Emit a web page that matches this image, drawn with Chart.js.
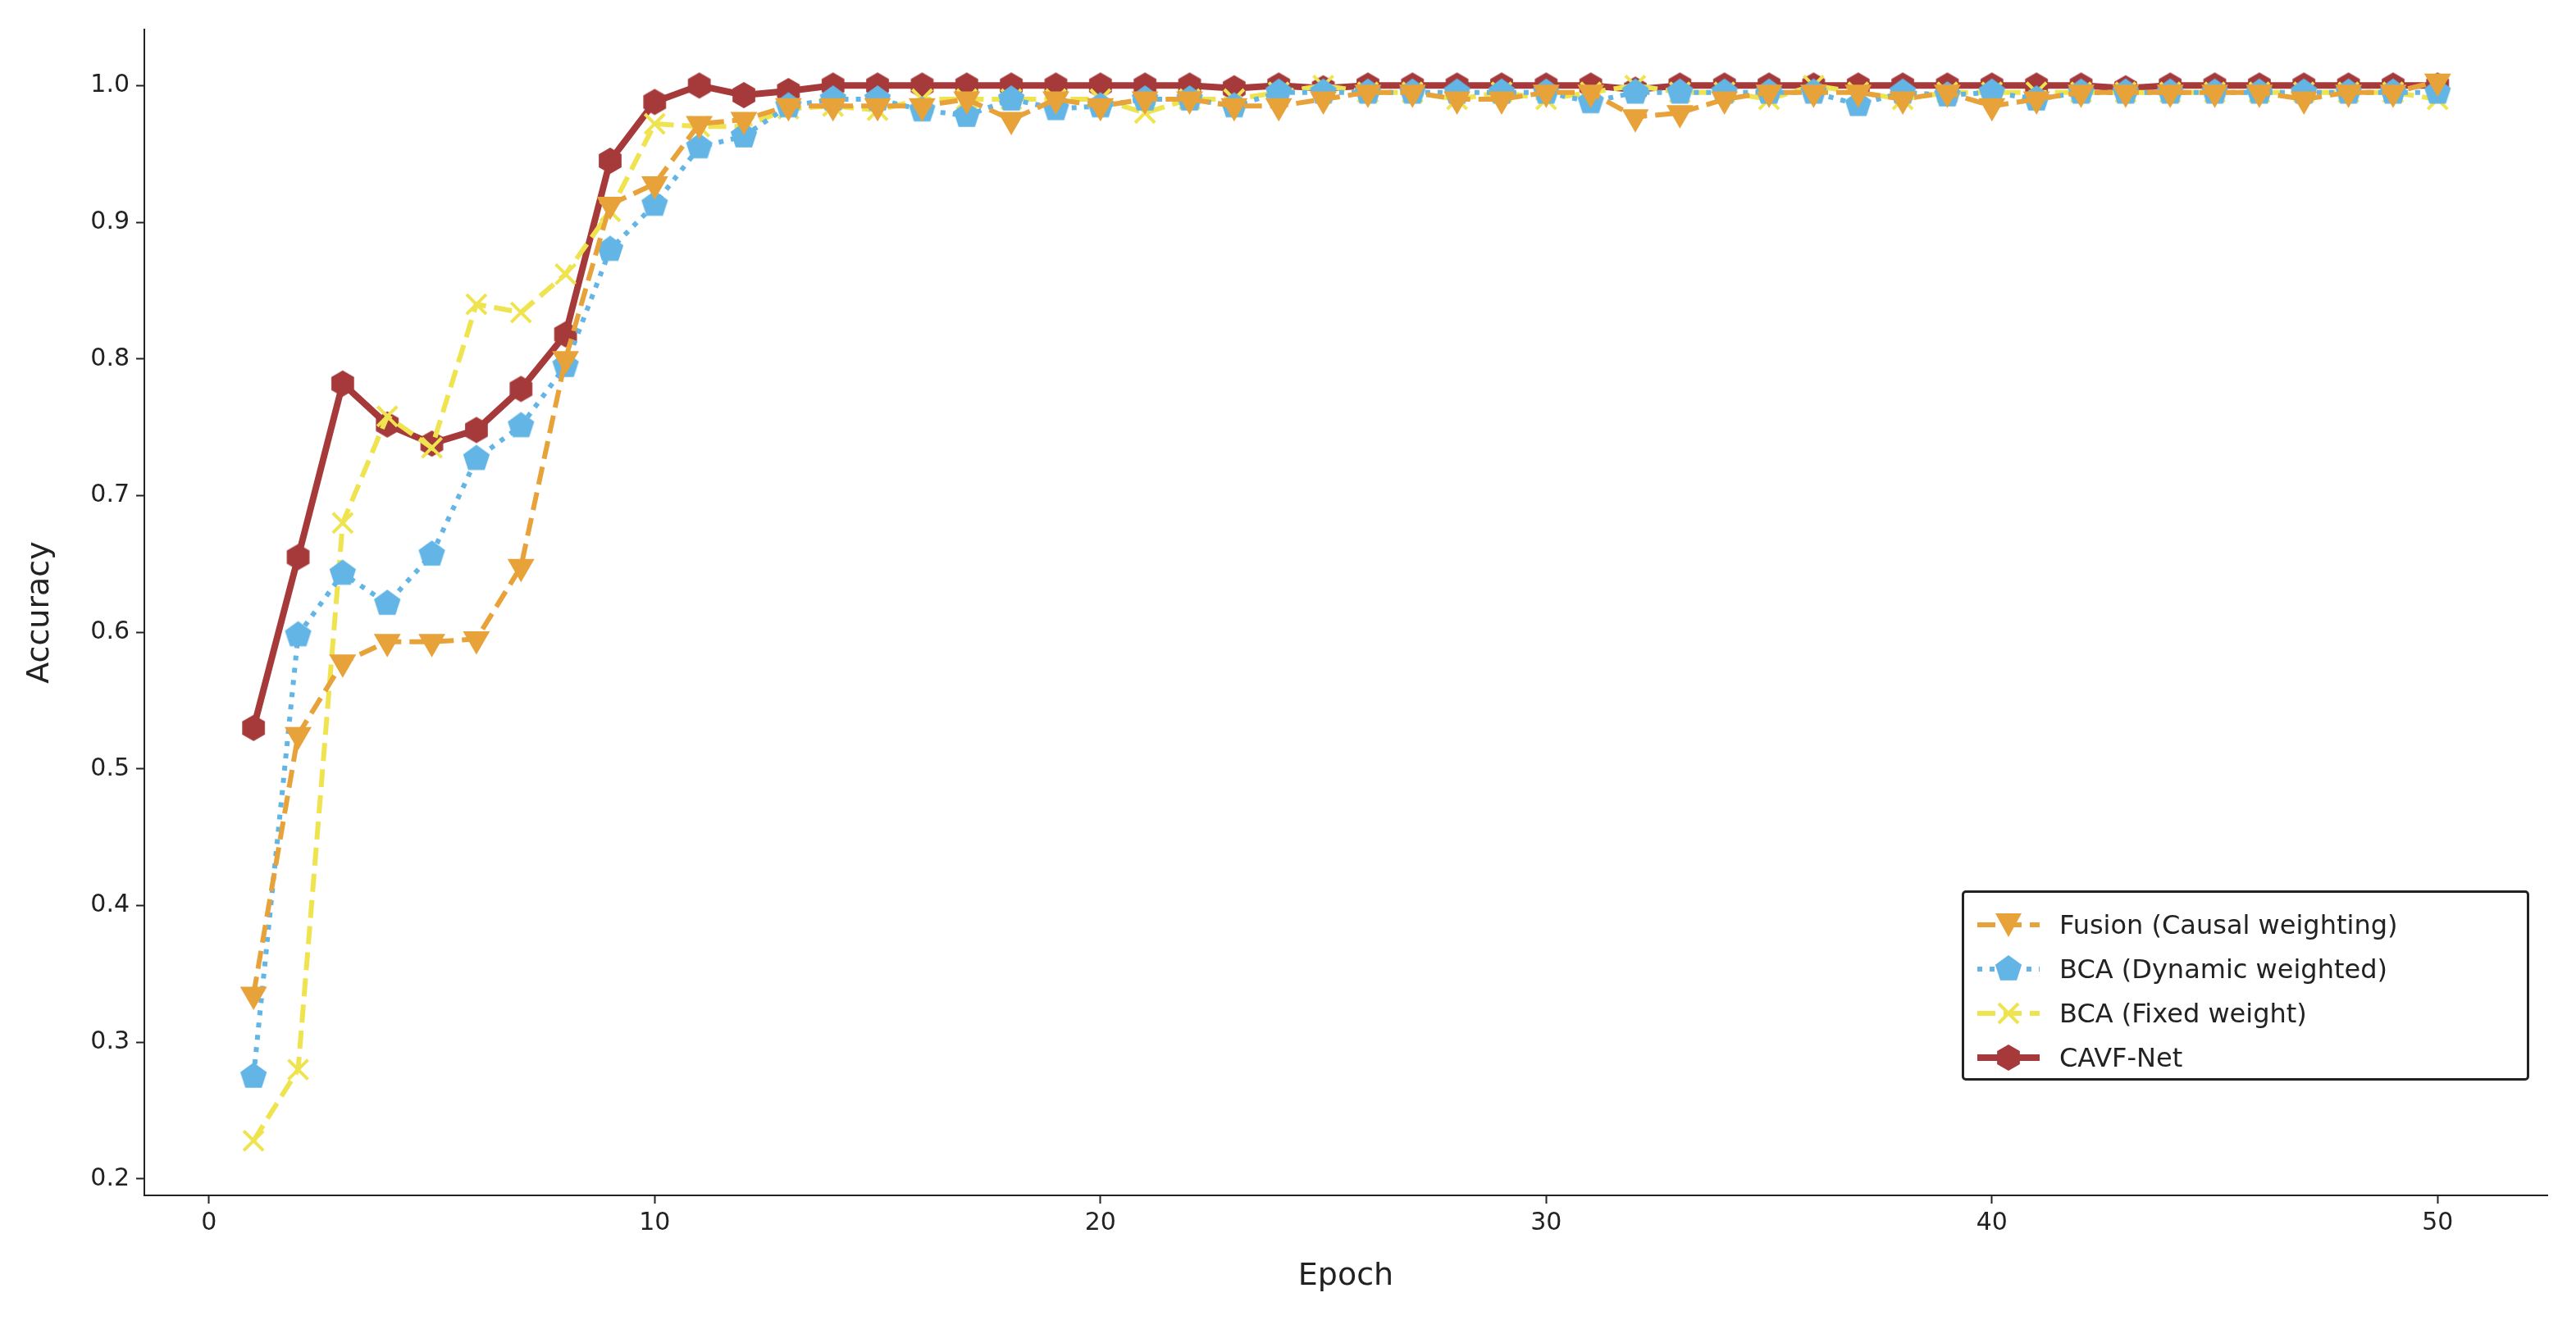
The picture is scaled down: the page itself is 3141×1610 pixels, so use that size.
<!DOCTYPE html>
<html>
<head>
<meta charset="utf-8">
<script src="https://cdn.jsdelivr.net/npm/chart.js@4/dist/chart.umd.min.js"></script>
<style>
  body { margin: 0; background: #fff; }
  #wrap { position: relative; width: 3141px; height: 1610px; }
  #legend { position: absolute; left: 2392px; top: 1086px; width: 692px; height: 232px;
    border: 3px solid #222; border-radius: 5px; background: #fff; box-sizing: border-box;
    font-family: "DejaVu Sans", sans-serif; font-size: 32px; color: #222; padding: 12px 0 0 14px; }
  .row { display: flex; align-items: center; height: 54px; }
  .row canvas { margin-right: 22px; }
</style>
</head>
<body>
<div id="wrap">
  <canvas id="accChart" width="3141" height="1610"></canvas>
  <div id="legend"></div>
</div>
<script>
const epochs = [];
for (let i = 1; i <= 50; i++) epochs.push(i);

const fusionCausal = [0.335, 0.525, 0.578, 0.593, 0.593, 0.595, 0.648, 0.800, 0.913, 0.928,
  0.972, 0.975, 0.985, 0.985, 0.985, 0.985, 0.990, 0.975, 0.990, 0.985,
  0.990, 0.990, 0.985, 0.985, 0.990, 0.995, 0.995, 0.990, 0.990, 0.995,
  0.995, 0.977, 0.980, 0.990, 0.995, 0.995, 0.995, 0.990, 0.995, 0.985,
  0.990, 0.995, 0.995, 0.995, 0.995, 0.995, 0.990, 0.995, 0.995, 1.003];
const bcaDynamic = [0.275, 0.598, 0.643, 0.621, 0.657, 0.727, 0.751, 0.795, 0.880, 0.913,
  0.955, 0.963, 0.985, 0.990, 0.990, 0.982, 0.978, 0.990, 0.983, 0.985,
  0.990, 0.990, 0.985, 0.995, 0.995, 0.995, 0.995, 0.995, 0.995, 0.995,
  0.988, 0.995, 0.995, 0.995, 0.995, 0.995, 0.986, 0.995, 0.993, 0.995,
  0.990, 0.995, 0.995, 0.995, 0.995, 0.995, 0.995, 0.995, 0.995, 0.995];
const bcaFixed = [0.228, 0.280, 0.680, 0.758, 0.735, 0.840, 0.834, 0.862, 0.908, 0.972,
  0.970, 0.970, 0.983, 0.985, 0.982, 0.990, 0.990, 0.990, 0.990, 0.990,
  0.980, 0.990, 0.990, 0.995, 1.000, 0.995, 0.995, 0.990, 0.995, 0.990,
  0.995, 1.000, 0.995, 0.995, 0.990, 1.000, 0.995, 0.990, 0.995, 0.995,
  0.995, 0.995, 0.995, 0.995, 0.995, 0.995, 0.995, 0.995, 0.995, 0.990];
const cavfNet = [0.530, 0.655, 0.782, 0.752, 0.738, 0.748, 0.778, 0.818, 0.945, 0.988,
  1.000, 0.993, 0.996, 1.000, 1.000, 1.000, 1.000, 1.000, 1.000, 1.000,
  1.000, 1.000, 0.998, 1.000, 0.998, 1.000, 1.000, 1.000, 1.000, 1.000,
  1.000, 0.997, 1.000, 1.000, 1.000, 1.000, 1.000, 1.000, 1.000, 1.000,
  1.000, 1.000, 0.998, 1.000, 1.000, 1.000, 1.000, 1.000, 1.000, 1.000];

const xTicks = [0, 10, 20, 30, 40, 50];
const yTicks = [0.2, 0.3, 0.4, 0.5, 0.6, 0.7, 0.8, 0.9, 1.0];

// polygon marker images (pentagon / hexagon aren't built in)
function polyMarker(sides, r, color, rot) {
  const c = document.createElement('canvas');
  c.width = c.height = r * 2 + 2;
  const g = c.getContext('2d');
  g.fillStyle = color;
  g.beginPath();
  for (let i = 0; i < sides; i++) {
    const a = rot + i * 2 * Math.PI / sides;
    const px = r + 1 + r * Math.cos(a), py = r + 1 + r * Math.sin(a);
    i ? g.lineTo(px, py) : g.moveTo(px, py);
  }
  g.closePath();
  g.fill();
  return c;
}
const pentagon = polyMarker(5, 17, '#62b5e5', -Math.PI / 2);
const hexagon = polyMarker(6, 16, '#a63a3b', -Math.PI / 2);

const series = [
  { label: 'Fusion (Causal weighting)', data: fusionCausal, color: '#e8a23a', width: 6, dash: [22, 10], style: 'triangle', rot: 180, radius: 19 },
  { label: 'BCA (Dynamic weighted)', data: bcaDynamic, color: '#62b5e5', width: 6, dash: [6, 9], style: pentagon, rot: 0, radius: 14 },
  { label: 'BCA (Fixed weight)', data: bcaFixed, color: '#efe44f', width: 6, dash: [22, 10], style: 'cross', rot: 45, radius: 17 },
  { label: 'CAVF-Net', data: cavfNet, color: '#a63a3b', width: 8, dash: [], style: hexagon, rot: 0, radius: 14 }
];

new Chart(document.getElementById('accChart'), {
  type: 'line',
  data: {
    labels: epochs,
    datasets: series.map(s => ({
      label: s.label,
      data: s.data.map((v, i) => ({ x: epochs[i], y: v })),
      borderColor: s.color,
      backgroundColor: s.color,
      borderWidth: s.width,
      borderDash: s.dash,
      pointStyle: s.style,
      rotation: s.rot,
      pointRadius: s.radius,
      pointBorderWidth: s.style === 'cross' ? 4 : 0,
      pointBorderColor: s.color,
      tension: 0
    }))
  },
  options: {
    responsive: false,
    devicePixelRatio: 1,
    animation: false,
    layout: { padding: { top: 36, right: 35, left: 0, bottom: 0 } },
    plugins: { legend: { display: false }, tooltip: { enabled: false } },
    scales: {
      x: {
        type: 'linear', min: -1.45, max: 52.46,
        afterBuildTicks: sc => { sc.ticks = xTicks.map(v => ({ value: v })); },
        afterFit: sc => { sc.height = 152; },
        grid: { drawOnChartArea: false, tickLength: 10, tickWidth: 2, color: '#222' },
        border: { color: '#222', width: 2 },
        ticks: { color: '#222', font: { family: 'DejaVu Sans', size: 30 }, padding: 6 },
        title: { display: true, text: 'Epoch', color: '#222', padding: { top: 4, bottom: 30 },
          font: { family: 'DejaVu Sans', size: 38 } }
      },
      y: {
        min: 0.188, max: 1.041,
        afterBuildTicks: sc => { sc.ticks = yTicks.map(v => ({ value: v })); },
        afterFit: sc => { sc.width = 176; },
        grid: { drawOnChartArea: false, tickLength: 10, tickWidth: 2, color: '#222' },
        border: { color: '#222', width: 2 },
        ticks: { color: '#222', font: { family: 'DejaVu Sans', size: 30 }, padding: 8,
          callback: v => v.toFixed(1) },
        title: { display: true, text: 'Accuracy', color: '#222', padding: { top: 26, bottom: 4 },
          font: { family: 'DejaVu Sans', size: 38 } }
      }
    }
  }
});

// legend built as html, samples drawn on small canvases
const legend = document.getElementById('legend');
series.forEach(s => {
  const row = document.createElement('div');
  row.className = 'row';
  const c = document.createElement('canvas');
  c.width = 80; c.height = 40;
  const g = c.getContext('2d');
  g.strokeStyle = s.color; g.lineWidth = s.width; g.setLineDash(s.dash);
  g.beginPath(); g.moveTo(2, 20); g.lineTo(78, 20); g.stroke();
  g.setLineDash([]);
  g.fillStyle = s.color;
  if (s.style === 'triangle') {
    g.beginPath(); g.moveTo(24, 6); g.lineTo(56, 6); g.lineTo(40, 35); g.closePath(); g.fill();
  } else if (s.style === 'cross') {
    g.lineWidth = 4; g.beginPath();
    g.moveTo(28, 8); g.lineTo(52, 32); g.moveTo(52, 8); g.lineTo(28, 32); g.stroke();
  } else {
    g.drawImage(s.style, 40 - s.style.width / 2, 20 - s.style.height / 2);
  }
  row.appendChild(c);
  const t = document.createElement('span');
  t.textContent = s.label;
  row.appendChild(t);
  legend.appendChild(row);
});
</script>
</body>
</html>
